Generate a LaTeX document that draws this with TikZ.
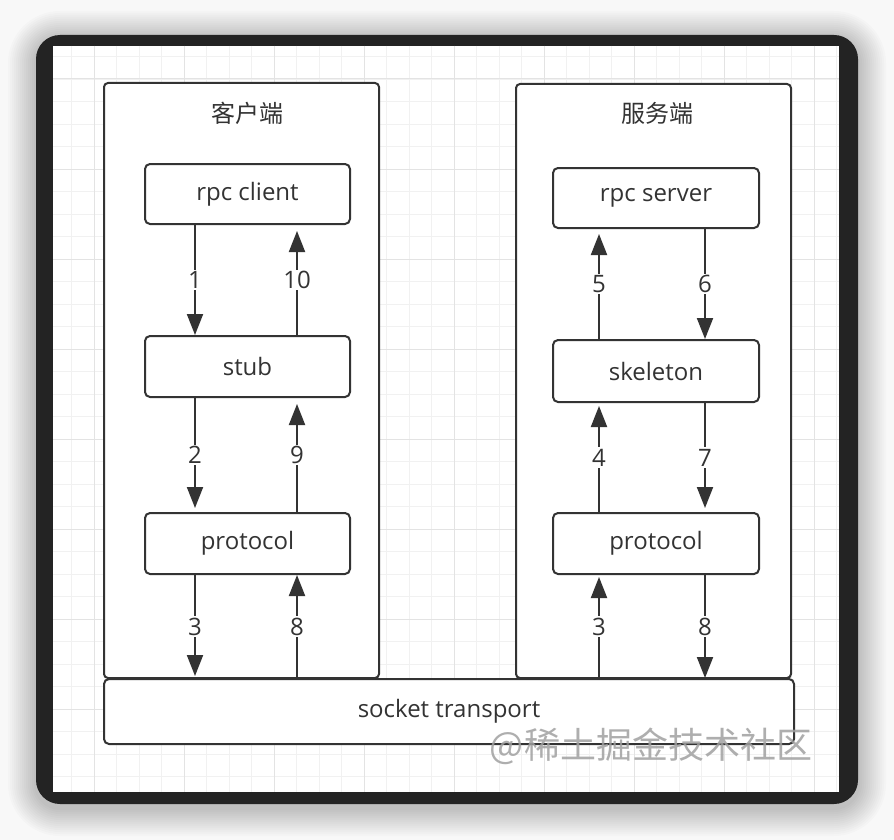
\documentclass[tikz,border=0pt]{standalone}
\usepackage{fontspec}
\setmainfont{Open Sans}
\newfontfamily\cjkfont{Noto Sans CJK SC}
\usetikzlibrary{arrows.meta,calc}
\definecolor{ink}{HTML}{333333}
\definecolor{framec}{HTML}{232323}
\definecolor{bgc}{HTML}{F8F8F8}
\definecolor{gridminor}{HTML}{F1F1F1}
\definecolor{gridmajor}{HTML}{E3E3E3}
\definecolor{wmark}{HTML}{A0A0A0}
\tikzset{
  cont/.style={draw=ink, line width=2pt, rounded corners=4pt, fill=white},
  boxn/.style={draw=ink, line width=2pt, rounded corners=5pt, fill=white, text=ink,
    font=\fontsize{24}{28}\selectfont, minimum width=205pt, minimum height=60pt, inner sep=0pt},
  titlen/.style={text=ink, font=\fontsize{24}{28}\selectfont\cjkfont, inner sep=0pt},
  arr/.style={draw=ink, line width=2pt, -{Triangle[length=21pt,width=16pt]}},
  lbl/.style={fill=white, text=ink, font=\fontsize{24}{28}\selectfont, inner sep=1.5pt, midway}
}
\begin{document}
\begin{tikzpicture}[x=1pt,y=-1pt]
\useasboundingbox (0,0) rectangle (894,840);
\fill[bgc] (0,0) rectangle (894,840);
% shadow
\foreach \d in {2,4,...,28}{
  \pgfmathsetmacro\rr{24+\d}
  \fill[black, opacity=0.014, rounded corners=\rr pt] (36-\d,35-\d+4) rectangle (858+\d,804+\d+4);
}
% dark frame
\fill[framec, rounded corners=24pt] (36,35) rectangle (858,804);
\fill[white] (53,46) rectangle (839,792);
% grid
\begin{scope}
  \clip (53,46) rectangle (839,792);
  \foreach \i in {0,...,37}{
    \draw[gridminor, line width=0.9pt] (4+22.5*\i,46) -- (4+22.5*\i,792);
    \draw[gridminor, line width=0.9pt] (53,-11+22.5*\i) -- (839,-11+22.5*\i);
  }
  \foreach \i in {0,...,9}{
    \draw[gridmajor, line width=1pt] (4+90*\i,46) -- (4+90*\i,792);
    \draw[gridmajor, line width=1pt] (53,-11+90*\i) -- (839,-11+90*\i);
  }
\end{scope}
% containers
\node[cont, minimum width=275pt, minimum height=595pt] (client) at (241.5,380.5) {};
\node[cont, minimum width=275pt, minimum height=594pt] (server) at (653.5,381) {};
\node[boxn, minimum width=690pt, minimum height=65pt] (socket) at (449,711.5) {socket transport};
% titles
\node[titlen] (ctitle) at (247,113) {客户端};
\node[titlen] (stitle) at (657,113) {服务端};
% inner boxes
\node[boxn] (rpcclient) at (247.5,194) {rpc client};
\node[boxn, minimum height=61pt] (stub) at (247.5,366.5) {stub};
\node[boxn, minimum height=61pt] (protoL) at (247.5,543.5) {protocol};
\node[boxn, minimum width=206pt] (rpcserver) at (656,198) {rpc server};
\node[boxn, minimum width=206pt, minimum height=62pt] (skeleton) at (656,371) {skeleton};
\node[boxn, minimum width=206pt, minimum height=61pt] (protoR) at (656,543.5) {protocol};
% columns
\coordinate (xa) at (195,0);
\coordinate (xb) at (297,0);
\coordinate (xc) at (599,0);
\coordinate (xd) at (705,0);
% client arrows
\draw[arr] (rpcclient.south -| xa) -- node[lbl] {1} (stub.north -| xa);
\draw[arr, shorten >=6pt] (stub.north -| xb) -- node[lbl] {10} (rpcclient.south -| xb);
\draw[arr, shorten >=4pt] (stub.south -| xa) -- node[lbl] {2} (protoL.north -| xa);
\draw[arr, shorten >=6pt] (protoL.north -| xb) -- node[lbl] {9} (stub.south -| xb);
\draw[arr, shorten >=2pt] (protoL.south -| xa) -- node[lbl] {3} (socket.north -| xa);
\draw[arr] (socket.north -| xb) -- node[lbl] {8} (protoL.south -| xb);
% server arrows
\draw[arr, shorten >=5pt] (skeleton.north -| xc) -- node[lbl] {5} (rpcserver.south -| xc);
\draw[arr] (rpcserver.south -| xd) -- node[lbl] {6} (skeleton.north -| xd);
\draw[arr, shorten >=3pt] (protoR.north -| xc) -- node[lbl] {4} (skeleton.south -| xc);
\draw[arr, shorten >=4pt] (skeleton.south -| xd) -- node[lbl] {7} (protoR.north -| xd);
\draw[arr, shorten >=2pt] (socket.north -| xc) -- node[lbl] {3} (protoR.south -| xc);
\draw[arr] (protoR.south -| xd) -- node[lbl] {8} (socket.north -| xd);
% watermark
\node[text=wmark, opacity=0.85, font=\fontsize{36}{40}\selectfont\cjkfont, inner sep=0pt] (wm) at (651,746) {@稀土掘金技术社区};
\end{tikzpicture}
\end{document}
